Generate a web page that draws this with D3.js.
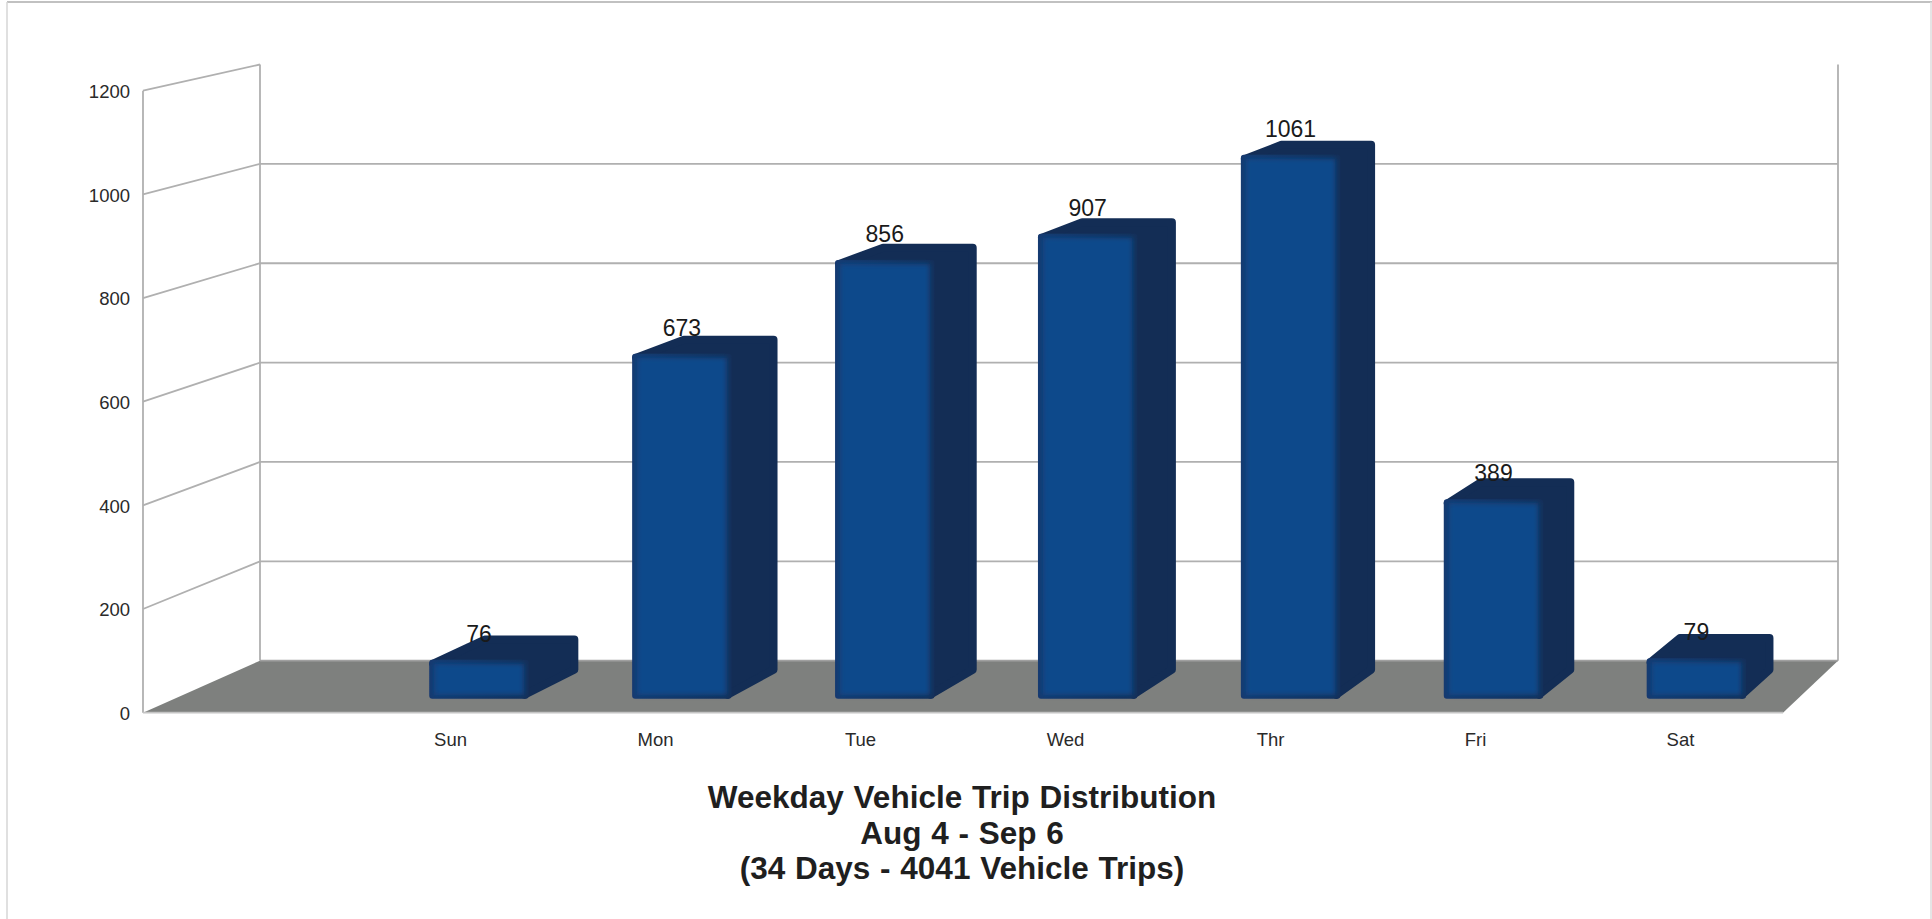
<!DOCTYPE html>
<html>
<head>
<meta charset="utf-8">
<script src="https://cdn.jsdelivr.net/npm/d3@7/dist/d3.min.js"></script>
<style>
html,body{margin:0;padding:0;background:#fff;overflow:hidden}
svg{display:block}
text{font-family:"Liberation Sans",Arial,sans-serif}
</style>
</head>
<body>
<svg id="chart" width="1932" height="919"></svg>
<script>
// Weekday trip counts; the first slot on the category axis is left empty.
const categories = ["", "Sun", "Mon", "Tue", "Wed", "Thr", "Fri", "Sat"];
const values = [null, 76, 673, 856, 907, 1061, 389, 79];
const yTicks = [0, 200, 400, 600, 800, 1000, 1200];
const titleLines = ["Weekday Vehicle Trip Distribution", "Aug 4 - Sep 6", "(34 Days - 4041 Vehicle Trips)"];

const W = 1932, H = 919;
const svg = d3.select("#chart");

// Oblique box: a front plane and a back plane, with depth blending between them.
const xFront = d3.scaleLinear().domain([0, 1]).range([143, 1783]);
const xBack = d3.scaleLinear().domain([0, 1]).range([260, 1838]);
const yFront = d3.scaleLinear().domain([0, 1200]).range([712.7, 90.7]);
const yBack = d3.scaleLinear().domain([0, 1200]).range([660.7, 64.5]);
const band = d3.scaleBand().domain(categories).range([0, 1]).paddingInner(0.51).paddingOuter(0.255);

function project(u, v, d) {
  return [
    xFront(u) * (1 - d) + xBack(u) * d,
    yFront(v) * (1 - d) + yBack(v) * d
  ];
}
const poly = pts => pts.map(p => p.join(",")).join(" ");

const grid = "#b0b0b0";
const sideBlue = "#132d55";
const barDepthNear = 0.27, barDepthFar = 0.75;

// Page frame
svg.append("line").attr("x1", 7).attr("x2", W).attr("y1", 2).attr("y2", 2).attr("stroke", "#adadad").attr("stroke-width", 1.5);
svg.append("line").attr("x1", 7).attr("x2", 7).attr("y1", 2).attr("y2", H).attr("stroke", "#d6d6d6").attr("stroke-width", 1.5);
svg.append("line").attr("x1", 1931).attr("x2", 1931).attr("y1", 2).attr("y2", H).attr("stroke", "#dcdcdc").attr("stroke-width", 1.5);

// Rim colour of the front face, and the soft edge of its lit centre
const defs = svg.append("defs");
const grad = defs.append("linearGradient").attr("id", "faceRim").attr("x1", 0).attr("x2", 1).attr("y1", 0).attr("y2", 0);
[[0, "#163a70"], [1, "#14305a"]].forEach(s =>
  grad.append("stop").attr("offset", s[0]).attr("stop-color", s[1]));
const soft = defs.append("filter").attr("id", "soft").attr("x", "-15%").attr("y", "-15%").attr("width", "130%").attr("height", "130%");
soft.append("feGaussianBlur").attr("stdDeviation", 2.4);

// Floor
svg.append("polygon")
  .attr("points", poly([project(0, 0, 0), project(0, 0, 1), project(1, 0, 1), project(1, 0, 0)]))
  .attr("fill", "#7e807e");

// Walls and gridlines
const walls = svg.append("g").attr("fill", "none").attr("stroke", grid).attr("stroke-width", 1.8);
walls.append("path").attr("d", d3.line()([project(0, 1200, 0), project(0, 0, 0)]));
walls.append("path").attr("d", d3.line()([project(0, 1200, 1), project(0, 0, 1)]));
walls.append("path").attr("d", d3.line()([project(1, 1200, 1), project(1, 0, 1)]));
walls.append("path").attr("d", d3.line()([project(0, 0, 0), project(1, 0, 0)])).attr("stroke", "#c4c4c4");
yTicks.forEach(t => {
  if (t === 1200) {
    walls.append("path").attr("d", d3.line()([project(0, t, 0), project(0, t, 1)]));
  } else if (t === 0) {
    walls.append("path").attr("d", d3.line()([project(0, t, 1), project(1, t, 1)])).attr("stroke", "#a0a0a0");
  } else {
    walls.append("path").attr("d", d3.line()([project(0, t, 0), project(0, t, 1), project(1, t, 1)]));
  }
});

// Bars: a rounded dark silhouette for top and side, then the front face
const rows = categories.map((c, i) => ({ c, v: values[i] })).filter(r => r.v !== null);
const bars = svg.append("g").selectAll("g").data(rows).join("g");
const r0 = 4;

bars.append("polygon")
  .attr("fill", sideBlue).attr("stroke", sideBlue).attr("stroke-width", r0 * 2).attr("stroke-linejoin", "round")
  .attr("points", r => {
    const a = band(r.c), b = a + band.bandwidth();
    const p1 = project(a, r.v, barDepthNear), p2 = project(a, r.v, barDepthFar), p3 = project(b, r.v, barDepthFar);
    const p4 = project(b, 0, barDepthFar), p5 = project(b, 0, barDepthNear);
    return poly([
      [p1[0] + r0, p1[1] + r0], [p2[0] + r0, p2[1] + r0], [p3[0] - r0, p3[1] + r0],
      [p4[0] - r0, p4[1] - r0], [p5[0] - r0, p5[1] - r0]
    ]);
  });

const faceInset = (r, l, t, rt, btm) => {
  const a = band(r.c), b = a + band.bandwidth();
  const tl = project(a, r.v, barDepthNear), br = project(b, 0, barDepthNear);
  return poly([[tl[0] + l, tl[1] + t], [br[0] - rt, tl[1] + t], [br[0] - rt, br[1] - btm], [tl[0] + l, br[1] - btm]]);
};

bars.append("polygon")
  .attr("fill", "url(#faceRim)").attr("stroke", "url(#faceRim)").attr("stroke-width", 6).attr("stroke-linejoin", "round")
  .attr("points", r => faceInset(r, 3, 3, 3, 3));

bars.append("polygon")
  .attr("fill", "#0f4a8b").attr("filter", "url(#soft)")
  .attr("points", r => faceInset(r, 5, 4, 5, 4));

// Value labels
bars.append("text")
  .attr("x", r => project(band(r.c) + band.bandwidth() / 2, r.v, barDepthNear)[0])
  .attr("y", r => project(band(r.c) + band.bandwidth() / 2, r.v, barDepthNear)[1] - 18)
  .attr("text-anchor", "middle").attr("font-size", 23).attr("fill", "#1a1a1a")
  .text(r => r.v);

// Axes
const yAxis = svg.append("g").attr("transform", "translate(143,1)")
  .call(d3.axisLeft(yFront).tickValues(yTicks).tickFormat(d3.format("d")).tickSize(0).tickPadding(13));
yAxis.select(".domain").remove();
yAxis.selectAll("text").attr("font-size", 18.5).attr("fill", "#2a2a2a").attr("font-family", "Liberation Sans");

const xCat = d3.scaleBand().domain(categories).range(xFront.range());
const xAxis = svg.append("g").attr("transform", "translate(0,733)")
  .call(d3.axisBottom(xCat).tickSize(0).tickPadding(0));
xAxis.select(".domain").remove();
xAxis.selectAll("text").attr("font-size", 18.5).attr("fill", "#2a2a2a").attr("font-family", "Liberation Sans");

// Title
svg.append("g").selectAll("text").data(titleLines).join("text")
  .attr("x", 962).attr("y", (d, i) => 808 + i * 35.5)
  .attr("text-anchor", "middle").attr("font-size", 31.5).attr("font-weight", "bold").attr("word-spacing", 1).attr("fill", "#1f1f1f")
  .text(d => d);
</script>
</body>
</html>
